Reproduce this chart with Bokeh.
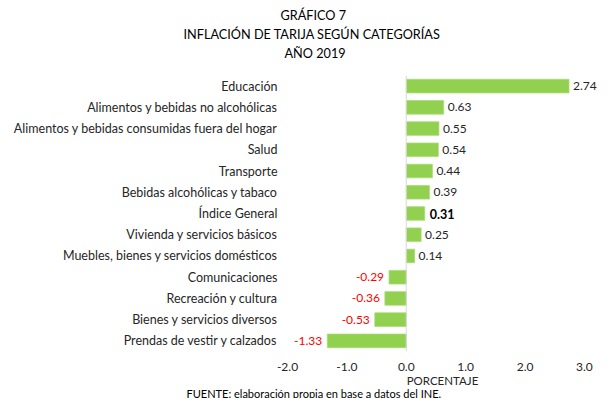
from bokeh.plotting import figure
from bokeh.models import ColumnDataSource, FactorRange, Span, Title, FixedTicker, CustomJSTickFormatter
from bokeh.core.properties import value
from bokeh.embed import file_html
from bokeh.resources import INLINE

categories = [
    "Educación",
    "Alimentos y bebidas no alcohólicas",
    "Alimentos y bebidas consumidas fuera del hogar",
    "Salud",
    "Transporte",
    "Bebidas alcohólicas y tabaco",
    "Índice General",
    "Vivienda y servicios básicos",
    "Muebles, bienes y servicios domésticos",
    "Comunicaciones",
    "Recreación y cultura",
    "Bienes y servicios diversos",
    "Prendas de vestir y calzados",
]
values = [2.74, 0.63, 0.55, 0.54, 0.44, 0.39, 0.31, 0.25, 0.14, -0.29, -0.36, -0.53, -1.33]
x_ticks = [-2, -1, 0, 1, 2, 3]
title_lines = ["GRÁFICO 7", "INFLACIÓN DE TARIJA SEGÚN CATEGORÍAS", "AÑO 2019"]
source_note = "FUENTE: elaboración propia en base a datos del INE."
axis_title = "PORCENTAJE"
highlight = "Índice General"

FONT = "Lato"
FL, FR = 287, 597  # frame left/right in canvas px

p = figure(
    width=597, height=398,
    y_range=FactorRange(factors=list(reversed(categories)), range_padding=0),
    x_range=(-2, 3.22),
    output_backend="svg", toolbar_location=None,
    min_border_left=FL, min_border_right=0,
    min_border_top=75, min_border_bottom=40,
    title=None,
)
p.outline_line_color = None
p.xgrid.visible = False
p.ygrid.visible = False
p.background_fill_color = "white"
p.border_fill_color = "white"

src = ColumnDataSource(dict(cat=categories, val=values))
p.hbar(y="cat", right="val", left=0, height=0.64, source=src,
       fill_color="#92D050", line_color="#A8DC74", line_width=0.8)

p.add_layout(Span(location=0, dimension="height", line_color="#D9D9D9", line_width=1))

pos = [(c, v) for c, v in zip(categories, values) if v >= 0 and c != highlight]
neg = [(c, v) for c, v in zip(categories, values) if v < 0]
hig = [(c, v) for c, v in zip(categories, values) if c == highlight]

def mk(items):
    return ColumnDataSource(dict(cat=[c for c, _ in items], val=[v for _, v in items],
                                 txt=["{:.2f}".format(v) for _, v in items]))

p.text(x="val", y="cat", text="txt", source=mk(pos), x_offset=4, text_align="left",
       text_baseline="middle", text_font=value(FONT), text_font_size="12px", text_color="#262626")
p.text(x="val", y="cat", text="txt", source=mk(hig), x_offset=5, text_align="left",
       text_baseline="middle", text_font=value(FONT), text_font_size="12.5px", text_color="#000000",
       text_font_style="bold")
p.text(x="val", y="cat", text="txt", source=mk(neg), x_offset=-5, text_align="right",
       text_baseline="middle", text_font=value(FONT), text_font_size="12px", text_color="#FF0000")

xa = p.xaxis[0]
xa.ticker = FixedTicker(ticks=x_ticks)
xa.formatter = CustomJSTickFormatter(code="return tick.toFixed(1);")
xa.axis_line_color = None
xa.major_tick_line_color = None
xa.minor_tick_line_color = None
xa.major_tick_out = 0
xa.major_label_standoff = 11
xa.major_label_text_font = FONT
xa.major_label_text_font_size = "12px"
xa.major_label_text_color = "#262626"
xa.axis_label = axis_title
xa.axis_label_text_font = FONT
xa.axis_label_text_font_size = "11.5px"
xa.axis_label_text_font_style = "normal"
xa.axis_label_text_color = "#262626"
xa.axis_label_standoff = 0

ya = p.yaxis[0]
ya.axis_line_color = None
ya.major_tick_line_color = None
ya.minor_tick_line_color = None
ya.major_tick_out = 0
ya.major_label_standoff = 10
ya.major_label_text_font = FONT
ya.major_label_text_font_size = "12.5px"
ya.major_label_text_color = "#262626"

# spacer between the title block and the plot area
p.add_layout(Title(text="\u00a0", text_font_size="1px", standoff=11, align="left"), "above")

title_left = [280, 183, 284]
for line, left in reversed(list(zip(title_lines, title_left))):
    p.add_layout(Title(text=line, align="left", offset=left - FL, text_font=FONT,
                       text_font_size="12.7px", text_font_style="normal", text_color="#000000",
                       standoff=1), "above")

p.add_layout(Title(text=source_note, align="left", offset=186 - FL, text_font=FONT,
                   text_font_size="11px", text_font_style="normal", text_color="#000000",
                   vertical_align="top", standoff=-6), "below")

open("out.html", "w").write(file_html(p, INLINE))
